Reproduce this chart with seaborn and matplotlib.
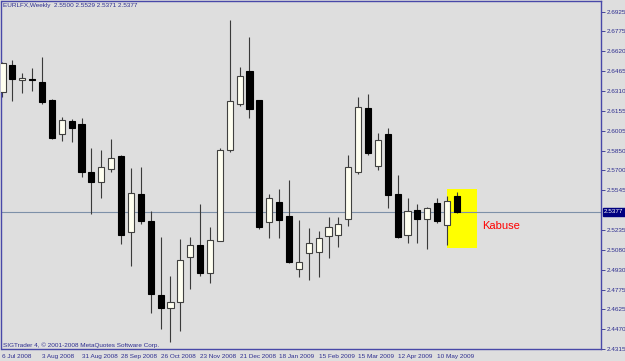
import numpy as np
import pandas as pd
import matplotlib
matplotlib.use("Agg")
import matplotlib.pyplot as plt
import matplotlib.transforms as mtransforms
from matplotlib.patches import Rectangle
import seaborn as sns

# ---------------- data ----------------
symbol = "EURLFX,Weekly"
start_date = "2008-07-06"
opens = [2.6305, 2.6515, 2.6398, 2.6406, 2.6383, 2.6243, 2.5980, 2.6081, 2.6058, 2.5686,
         2.5608, 2.5709, 2.5810, 2.5221, 2.5515, 2.5306, 2.4733, 2.4633, 2.4679, 2.5028,
         2.5120, 2.4904, 2.5151, 2.5856, 2.6213, 2.6468, 2.6243, 2.5299, 2.5454, 2.5345,
         2.4935, 2.5059, 2.5066, 2.5190, 2.5198, 2.5322, 2.5686, 2.6182, 2.5732, 2.5980,
         2.5515, 2.5198, 2.5392, 2.5322, 2.5446, 2.5275, 2.5500]
highs = [2.6535, 2.6553, 2.6453, 2.6491, 2.6577, 2.6251, 2.6112, 2.6096, 2.6104, 2.5872,
         2.5856, 2.5941, 2.5818, 2.5717, 2.5725, 2.5384, 2.5182, 2.4880, 2.5167, 2.5182,
         2.5438, 2.5260, 2.5872, 2.6863, 2.6499, 2.6731, 2.6243, 2.5515, 2.5554, 2.5624,
         2.5314, 2.5252, 2.5229, 2.5337, 2.5337, 2.5818, 2.6267, 2.6290, 2.5988, 2.6027,
         2.5663, 2.5484, 2.5438, 2.5415, 2.5484, 2.5500, 2.5529]
lows = [2.6267, 2.6236, 2.6298, 2.6313, 2.6213, 2.5941, 2.5926, 2.5918, 2.5647, 2.5361,
        2.5484, 2.5686, 2.5128, 2.4958, 2.5283, 2.4594, 2.4470, 2.4369, 2.4454, 2.4780,
        2.4880, 2.4826, 2.5151, 2.5841, 2.6197, 2.6104, 2.5244, 2.5175, 2.5175, 2.4981,
        2.4873, 2.4849, 2.4873, 2.5020, 2.5105, 2.5268, 2.5670, 2.5818, 2.5701, 2.5407,
        2.5175, 2.5136, 2.5136, 2.5090, 2.5291, 2.5120, 2.5371]
closes = [2.6530, 2.6406, 2.6414, 2.6398, 2.6228, 2.5949, 2.6089, 2.6027, 2.5686, 2.5608,
          2.5725, 2.5794, 2.5198, 2.5523, 2.5306, 2.4741, 2.4633, 2.4679, 2.5004, 2.5120,
          2.4904, 2.5159, 2.5856, 2.6236, 2.6429, 2.6174, 2.5260, 2.5484, 2.5314, 2.4989,
          2.4989, 2.5136, 2.5175, 2.5260, 2.5283, 2.5725, 2.6189, 2.5833, 2.5934, 2.5508,
          2.5182, 2.5384, 2.5322, 2.5407, 2.5306, 2.5461, 2.5377]
ytick_vals = [2.6925, 2.6775, 2.6620, 2.6465, 2.6310, 2.6155, 2.6005, 2.5850, 2.5700,
              2.5545, 2.5235, 2.5080, 2.4930, 2.4775, 2.4625, 2.4470, 2.4315]
last_price = 2.5377
box_first, box_last = 45, 47          # candle indices covered by highlight
box_low, box_high = 2.5097, 2.5554
pattern_label = "Kabuse"
label_price = 2.5268
copyright_text = "SIGTrader 4, \u00a9 2001-2008 MetaQuotes Software Corp."

# ---------------- style ----------------
BG = "#dedede"
NAVY = "#2e2e90"
FRAME = "#4848a8"
FS = 4.6
sns.set_style("white")
plt.rcParams["font.family"] = ["Liberation Sans", "DejaVu Sans"]

df = pd.DataFrame({"date": pd.date_range(start_date, periods=len(opens), freq="7D"),
                   "open": opens, "high": highs, "low": lows, "close": closes})
df["i"] = np.arange(len(df))
up = df["close"] >= df["open"]

fig = plt.figure(figsize=(6.25, 3.61), dpi=100, facecolor=BG)
ax = fig.add_axes([1.5 / 625, 12 / 361, 599.5 / 625, 348 / 361])
ax.set_facecolor(BG)

# highlight box
ax.add_patch(Rectangle((box_first, box_low), box_last + 1 - box_first, box_high - box_low,
                       facecolor="#ffff00", edgecolor="none", zorder=1))
# bid line
ax.axhline(last_price, color="#7d90a8", lw=0.8, zorder=1.5)

# wicks
ax.vlines(df["i"], df["low"], df["high"], color="#3a3a3a", lw=0.8, zorder=2)
# bodies
ax.bar(df["i"][up], (df["close"] - df["open"])[up], bottom=df["open"][up], width=0.62,
       color="#fffff0", edgecolor="#404040", lw=0.8, zorder=3)
ax.bar(df["i"][~up], (df["open"] - df["close"])[~up], bottom=df["close"][~up], width=0.62,
       color="black", edgecolor="black", lw=0.8, zorder=3)

ax.set_xlim(-0.1, 60.58)
ax.set_ylim(2.4315, 2.7010)

# axes
for s in ax.spines.values():
    s.set_color(FRAME)
    s.set_linewidth(1.0)
ax.yaxis.tick_right()
ax.set_yticks(ytick_vals)
ax.set_yticklabels([f"{v:.4f}" for v in ytick_vals])
ax.tick_params(axis="y", direction="out", length=3, width=0.6, colors=NAVY,
               labelsize=FS, pad=1)
ticks = df["i"][::4]
ax.set_xticks(ticks)
ax.set_xticklabels([f"{d.day} {d:%b %Y}" for d in df["date"][::4]])
ax.tick_params(axis="x", direction="out", length=3, width=0.6, colors=NAVY,
               labelsize=FS, pad=0.8)
for lab in ax.get_xticklabels():
    lab.set_ha("left")

# price label on axis
trans = mtransforms.blended_transform_factory(ax.transAxes, ax.transData)
ax.text(1.0, last_price, f"{last_price:.4f}",
        transform=trans + mtransforms.ScaledTranslation(3 / 100, 0, fig.dpi_scale_trans),
        ha="left", va="center", fontsize=FS, color="white",
        bbox=dict(boxstyle="square,pad=0.2", fc="#000080", ec="#000080"), zorder=10, clip_on=False)

# pattern label
ax.text(box_last + 1.5, label_price, pattern_label, color="#ff0000", fontsize=8,
        family="Liberation Sans", ha="left", va="center", zorder=5)

# header and copyright
fig.text(3 / 625, 1 - 6 / 361,
         f"{symbol}  {opens[-1]:.4f} {highs[-1]:.4f} {lows[-1]:.4f} {closes[-1]:.4f}",
         color=NAVY, fontsize=FS, ha="left", va="center")
fig.text(3 / 625, 1 - 345 / 361, copyright_text, color=NAVY, fontsize=FS,
         ha="left", va="center")

fig.savefig("out.png", dpi=100, facecolor=BG)
